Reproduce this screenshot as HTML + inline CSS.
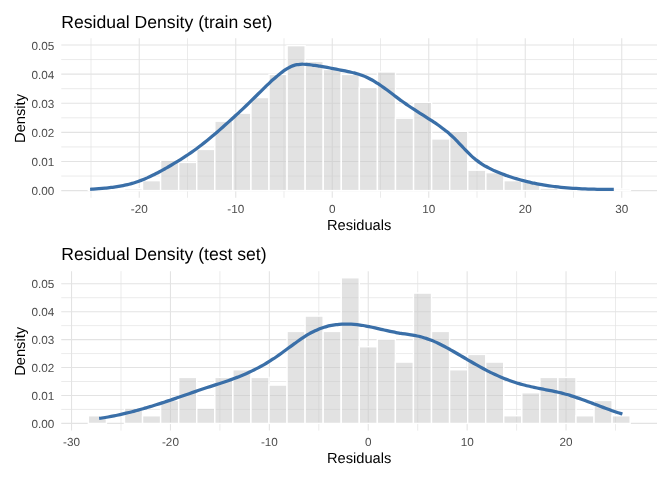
<!DOCTYPE html>
<html><head><meta charset="utf-8"><title>Residual Density</title>
<style>
html,body{margin:0;padding:0;background:#fff;}
body{width:672px;height:480px;overflow:hidden;}
svg{display:block;font-family:"Liberation Sans", sans-serif;}
text{text-rendering:geometricPrecision;}
text{filter:grayscale(1);}
</style></head><body>
<svg width="672" height="480" viewBox="0 0 672 480">
<rect width="672" height="480" fill="#FFFFFF"/>
<g id="train">
<g>
<line x1="61.25" x2="657.0" y1="176.04" y2="176.04" stroke="#E3E3E3" stroke-width="0.7"/>
<line x1="61.25" x2="657.0" y1="146.92" y2="146.92" stroke="#E3E3E3" stroke-width="0.7"/>
<line x1="61.25" x2="657.0" y1="117.80" y2="117.80" stroke="#E3E3E3" stroke-width="0.7"/>
<line x1="61.25" x2="657.0" y1="88.68" y2="88.68" stroke="#E3E3E3" stroke-width="0.7"/>
<line x1="61.25" x2="657.0" y1="59.56" y2="59.56" stroke="#E3E3E3" stroke-width="0.7"/>
<line y1="38.25" y2="197.75" x1="91.00" x2="91.00" stroke="#E3E3E3" stroke-width="0.7"/>
<line y1="38.25" y2="197.75" x1="187.50" x2="187.50" stroke="#E3E3E3" stroke-width="0.7"/>
<line y1="38.25" y2="197.75" x1="284.00" x2="284.00" stroke="#E3E3E3" stroke-width="0.7"/>
<line y1="38.25" y2="197.75" x1="380.50" x2="380.50" stroke="#E3E3E3" stroke-width="0.7"/>
<line y1="38.25" y2="197.75" x1="477.00" x2="477.00" stroke="#E3E3E3" stroke-width="0.7"/>
<line y1="38.25" y2="197.75" x1="573.50" x2="573.50" stroke="#E3E3E3" stroke-width="0.7"/>
<line x1="61.25" x2="657.0" y1="190.60" y2="190.60" stroke="#E3E3E3" stroke-width="1.07"/>
<line x1="61.25" x2="657.0" y1="161.48" y2="161.48" stroke="#E3E3E3" stroke-width="1.07"/>
<line x1="61.25" x2="657.0" y1="132.36" y2="132.36" stroke="#E3E3E3" stroke-width="1.07"/>
<line x1="61.25" x2="657.0" y1="103.24" y2="103.24" stroke="#E3E3E3" stroke-width="1.07"/>
<line x1="61.25" x2="657.0" y1="74.12" y2="74.12" stroke="#E3E3E3" stroke-width="1.07"/>
<line x1="61.25" x2="657.0" y1="45.00" y2="45.00" stroke="#E3E3E3" stroke-width="1.07"/>
<line y1="38.25" y2="197.75" x1="139.25" x2="139.25" stroke="#E3E3E3" stroke-width="1.07"/>
<line y1="38.25" y2="197.75" x1="235.75" x2="235.75" stroke="#E3E3E3" stroke-width="1.07"/>
<line y1="38.25" y2="197.75" x1="332.25" x2="332.25" stroke="#E3E3E3" stroke-width="1.07"/>
<line y1="38.25" y2="197.75" x1="428.75" x2="428.75" stroke="#E3E3E3" stroke-width="1.07"/>
<line y1="38.25" y2="197.75" x1="525.25" x2="525.25" stroke="#E3E3E3" stroke-width="1.07"/>
<line y1="38.25" y2="197.75" x1="621.75" x2="621.75" stroke="#E3E3E3" stroke-width="1.07"/>
</g>
<rect x="88.31" y="189.00" width="18.07" height="1.60" fill="rgb(197,197,197)" fill-opacity="0.5" stroke="#FFFFFF" stroke-width="1.42" stroke-linejoin="miter"/>
<rect x="106.38" y="190.50" width="18.07" height="0.10" fill="rgb(197,197,197)" fill-opacity="0.5" stroke="#FFFFFF" stroke-width="1.42" stroke-linejoin="miter"/>
<rect x="124.45" y="188.70" width="18.07" height="1.90" fill="rgb(197,197,197)" fill-opacity="0.5" stroke="#FFFFFF" stroke-width="1.42" stroke-linejoin="miter"/>
<rect x="142.52" y="180.65" width="18.07" height="9.95" fill="rgb(197,197,197)" fill-opacity="0.5" stroke="#FFFFFF" stroke-width="1.42" stroke-linejoin="miter"/>
<rect x="160.59" y="160.15" width="18.07" height="30.45" fill="rgb(197,197,197)" fill-opacity="0.5" stroke="#FFFFFF" stroke-width="1.42" stroke-linejoin="miter"/>
<rect x="178.66" y="162.40" width="18.07" height="28.20" fill="rgb(197,197,197)" fill-opacity="0.5" stroke="#FFFFFF" stroke-width="1.42" stroke-linejoin="miter"/>
<rect x="196.73" y="149.40" width="18.07" height="41.20" fill="rgb(197,197,197)" fill-opacity="0.5" stroke="#FFFFFF" stroke-width="1.42" stroke-linejoin="miter"/>
<rect x="214.80" y="121.15" width="18.07" height="69.45" fill="rgb(197,197,197)" fill-opacity="0.5" stroke="#FFFFFF" stroke-width="1.42" stroke-linejoin="miter"/>
<rect x="232.87" y="113.15" width="18.07" height="77.45" fill="rgb(197,197,197)" fill-opacity="0.5" stroke="#FFFFFF" stroke-width="1.42" stroke-linejoin="miter"/>
<rect x="250.94" y="97.50" width="18.07" height="93.10" fill="rgb(197,197,197)" fill-opacity="0.5" stroke="#FFFFFF" stroke-width="1.42" stroke-linejoin="miter"/>
<rect x="269.00" y="74.40" width="18.07" height="116.20" fill="rgb(197,197,197)" fill-opacity="0.5" stroke="#FFFFFF" stroke-width="1.42" stroke-linejoin="miter"/>
<rect x="287.08" y="45.65" width="18.07" height="144.95" fill="rgb(197,197,197)" fill-opacity="0.5" stroke="#FFFFFF" stroke-width="1.42" stroke-linejoin="miter"/>
<rect x="305.15" y="61.40" width="18.07" height="129.20" fill="rgb(197,197,197)" fill-opacity="0.5" stroke="#FFFFFF" stroke-width="1.42" stroke-linejoin="miter"/>
<rect x="323.22" y="69.40" width="18.07" height="121.20" fill="rgb(197,197,197)" fill-opacity="0.5" stroke="#FFFFFF" stroke-width="1.42" stroke-linejoin="miter"/>
<rect x="341.29" y="74.40" width="18.07" height="116.20" fill="rgb(197,197,197)" fill-opacity="0.5" stroke="#FFFFFF" stroke-width="1.42" stroke-linejoin="miter"/>
<rect x="359.36" y="87.40" width="18.07" height="103.20" fill="rgb(197,197,197)" fill-opacity="0.5" stroke="#FFFFFF" stroke-width="1.42" stroke-linejoin="miter"/>
<rect x="377.43" y="71.90" width="18.07" height="118.70" fill="rgb(197,197,197)" fill-opacity="0.5" stroke="#FFFFFF" stroke-width="1.42" stroke-linejoin="miter"/>
<rect x="395.50" y="118.15" width="18.07" height="72.45" fill="rgb(197,197,197)" fill-opacity="0.5" stroke="#FFFFFF" stroke-width="1.42" stroke-linejoin="miter"/>
<rect x="413.57" y="102.40" width="18.07" height="88.20" fill="rgb(197,197,197)" fill-opacity="0.5" stroke="#FFFFFF" stroke-width="1.42" stroke-linejoin="miter"/>
<rect x="431.63" y="138.90" width="18.07" height="51.70" fill="rgb(197,197,197)" fill-opacity="0.5" stroke="#FFFFFF" stroke-width="1.42" stroke-linejoin="miter"/>
<rect x="449.71" y="131.40" width="18.07" height="59.20" fill="rgb(197,197,197)" fill-opacity="0.5" stroke="#FFFFFF" stroke-width="1.42" stroke-linejoin="miter"/>
<rect x="467.78" y="170.15" width="18.07" height="20.45" fill="rgb(197,197,197)" fill-opacity="0.5" stroke="#FFFFFF" stroke-width="1.42" stroke-linejoin="miter"/>
<rect x="485.85" y="172.65" width="18.07" height="17.95" fill="rgb(197,197,197)" fill-opacity="0.5" stroke="#FFFFFF" stroke-width="1.42" stroke-linejoin="miter"/>
<rect x="503.92" y="180.65" width="18.07" height="9.95" fill="rgb(197,197,197)" fill-opacity="0.5" stroke="#FFFFFF" stroke-width="1.42" stroke-linejoin="miter"/>
<rect x="521.99" y="182.40" width="18.07" height="8.20" fill="rgb(197,197,197)" fill-opacity="0.5" stroke="#FFFFFF" stroke-width="1.42" stroke-linejoin="miter"/>
<rect x="540.06" y="188.15" width="18.07" height="2.45" fill="rgb(197,197,197)" fill-opacity="0.5" stroke="#FFFFFF" stroke-width="1.42" stroke-linejoin="miter"/>
<rect x="558.12" y="190.50" width="18.07" height="0.10" fill="rgb(197,197,197)" fill-opacity="0.5" stroke="#FFFFFF" stroke-width="1.42" stroke-linejoin="miter"/>
<rect x="576.20" y="190.50" width="18.07" height="0.10" fill="rgb(197,197,197)" fill-opacity="0.5" stroke="#FFFFFF" stroke-width="1.42" stroke-linejoin="miter"/>
<rect x="594.27" y="190.50" width="18.07" height="0.10" fill="rgb(197,197,197)" fill-opacity="0.5" stroke="#FFFFFF" stroke-width="1.42" stroke-linejoin="miter"/>
<rect x="612.34" y="189.00" width="18.07" height="1.60" fill="rgb(197,197,197)" fill-opacity="0.5" stroke="#FFFFFF" stroke-width="1.42" stroke-linejoin="miter"/>
<path d="M90.10,189.29C90.60,189.25 92.10,189.15 93.10,189.07C94.10,189.00 95.10,188.93 96.10,188.86C97.10,188.79 98.10,188.71 99.10,188.63C100.10,188.55 101.10,188.47 102.10,188.39C103.10,188.30 104.10,188.21 105.10,188.12C106.10,188.02 107.10,187.93 108.10,187.82C109.10,187.71 110.10,187.60 111.10,187.48C112.10,187.36 113.10,187.23 114.10,187.09C115.10,186.96 116.10,186.81 117.10,186.65C118.10,186.50 119.10,186.33 120.10,186.15C121.10,185.98 122.10,185.79 123.10,185.59C124.10,185.38 125.10,185.17 126.10,184.94C127.10,184.72 128.10,184.48 129.10,184.22C130.10,183.96 131.10,183.69 132.10,183.41C133.10,183.12 134.10,182.82 135.10,182.50C136.10,182.18 137.10,181.84 138.10,181.49C139.10,181.13 140.10,180.76 141.10,180.38C142.10,179.99 143.10,179.59 144.10,179.17C145.10,178.75 146.10,178.32 147.10,177.88C148.10,177.43 149.10,176.97 150.10,176.50C151.10,176.03 152.10,175.55 153.10,175.06C154.10,174.57 155.10,174.06 156.10,173.55C157.10,173.03 158.10,172.51 159.10,171.97C160.10,171.44 161.10,170.90 162.10,170.35C163.10,169.80 164.10,169.24 165.10,168.68C166.10,168.12 167.10,167.54 168.10,166.97C169.10,166.39 170.10,165.81 171.10,165.23C172.10,164.64 173.10,164.05 174.10,163.46C175.10,162.86 176.10,162.26 177.10,161.65C178.10,161.04 179.10,160.42 180.10,159.80C181.10,159.17 182.10,158.54 183.10,157.90C184.10,157.26 185.10,156.61 186.10,155.95C187.10,155.29 188.10,154.62 189.10,153.95C190.10,153.27 191.10,152.58 192.10,151.87C193.10,151.17 194.10,150.46 195.10,149.73C196.10,149.01 197.10,148.27 198.10,147.52C199.10,146.77 200.10,146.01 201.10,145.23C202.10,144.46 203.10,143.68 204.10,142.89C205.10,142.09 206.10,141.29 207.10,140.48C208.10,139.67 209.10,138.85 210.10,138.02C211.10,137.19 212.10,136.35 213.10,135.51C214.10,134.66 215.10,133.81 216.10,132.96C217.10,132.10 218.10,131.23 219.10,130.37C220.10,129.50 221.10,128.62 222.10,127.74C223.10,126.86 224.10,125.98 225.10,125.09C226.10,124.20 227.10,123.31 228.10,122.41C229.10,121.51 230.10,120.60 231.10,119.69C232.10,118.79 233.10,117.87 234.10,116.95C235.10,116.03 236.10,115.11 237.10,114.18C238.10,113.26 239.10,112.32 240.10,111.38C241.10,110.45 242.10,109.51 243.10,108.56C244.10,107.61 245.10,106.66 246.10,105.71C247.10,104.75 248.10,103.79 249.10,102.83C250.10,101.86 251.10,100.89 252.10,99.92C253.10,98.95 254.10,97.97 255.10,96.99C256.10,96.00 257.10,95.02 258.10,94.03C259.10,93.04 260.10,92.05 261.10,91.06C262.10,90.07 263.10,89.08 264.10,88.10C265.10,87.13 266.10,86.15 267.10,85.19C268.10,84.23 269.10,83.27 270.10,82.34C271.10,81.40 272.10,80.48 273.10,79.58C274.10,78.68 275.10,77.79 276.10,76.93C277.10,76.08 278.10,75.24 279.10,74.43C280.10,73.62 281.10,72.84 282.10,72.10C283.10,71.35 284.10,70.63 285.10,69.96C286.10,69.30 287.10,68.66 288.10,68.09C289.10,67.53 290.10,67.00 291.10,66.55C292.10,66.10 293.10,65.71 294.10,65.40C295.10,65.09 296.10,64.85 297.10,64.67C298.10,64.49 299.10,64.39 300.10,64.32C301.10,64.25 302.10,64.24 303.10,64.25C304.10,64.27 305.10,64.33 306.10,64.40C307.10,64.47 308.10,64.58 309.10,64.68C310.10,64.79 311.10,64.91 312.10,65.03C313.10,65.16 314.10,65.29 315.10,65.44C316.10,65.58 317.10,65.73 318.10,65.89C319.10,66.04 320.10,66.21 321.10,66.37C322.10,66.54 323.10,66.72 324.10,66.89C325.10,67.07 326.10,67.26 327.10,67.44C328.10,67.63 329.10,67.82 330.10,68.01C331.10,68.20 332.10,68.40 333.10,68.59C334.10,68.79 335.10,68.98 336.10,69.18C337.10,69.37 338.10,69.57 339.10,69.77C340.10,69.96 341.10,70.16 342.10,70.35C343.10,70.55 344.10,70.74 345.10,70.94C346.10,71.14 347.10,71.34 348.10,71.55C349.10,71.76 350.10,71.98 351.10,72.21C352.10,72.44 353.10,72.68 354.10,72.94C355.10,73.20 356.10,73.47 357.10,73.76C358.10,74.06 359.10,74.36 360.10,74.70C361.10,75.04 362.10,75.39 363.10,75.77C364.10,76.16 365.10,76.57 366.10,77.01C367.10,77.45 368.10,77.92 369.10,78.43C370.10,78.93 371.10,79.47 372.10,80.03C373.10,80.59 374.10,81.18 375.10,81.80C376.10,82.41 377.10,83.05 378.10,83.71C379.10,84.36 380.10,85.04 381.10,85.73C382.10,86.43 383.10,87.14 384.10,87.86C385.10,88.58 386.10,89.31 387.10,90.05C388.10,90.79 389.10,91.55 390.10,92.30C391.10,93.05 392.10,93.81 393.10,94.57C394.10,95.32 395.10,96.09 396.10,96.84C397.10,97.59 398.10,98.35 399.10,99.09C400.10,99.84 401.10,100.58 402.10,101.30C403.10,102.03 404.10,102.74 405.10,103.44C406.10,104.15 407.10,104.83 408.10,105.51C409.10,106.19 410.10,106.86 411.10,107.52C412.10,108.18 413.10,108.83 414.10,109.47C415.10,110.12 416.10,110.76 417.10,111.39C418.10,112.03 419.10,112.66 420.10,113.29C421.10,113.93 422.10,114.56 423.10,115.19C424.10,115.82 425.10,116.45 426.10,117.09C427.10,117.72 428.10,118.36 429.10,119.01C430.10,119.65 431.10,120.30 432.10,120.96C433.10,121.62 434.10,122.28 435.10,122.96C436.10,123.64 437.10,124.33 438.10,125.03C439.10,125.74 440.10,126.45 441.10,127.19C442.10,127.93 443.10,128.68 444.10,129.46C445.10,130.24 446.10,131.04 447.10,131.87C448.10,132.70 449.10,133.55 450.10,134.44C451.10,135.32 452.10,136.24 453.10,137.19C454.10,138.14 455.10,139.14 456.10,140.15C457.10,141.16 458.10,142.21 459.10,143.26C460.10,144.31 461.10,145.38 462.10,146.44C463.10,147.50 464.10,148.58 465.10,149.62C466.10,150.66 467.10,151.70 468.10,152.70C469.10,153.70 470.10,154.67 471.10,155.60C472.10,156.52 473.10,157.41 474.10,158.25C475.10,159.09 476.10,159.88 477.10,160.64C478.10,161.40 479.10,162.12 480.10,162.80C481.10,163.49 482.10,164.14 483.10,164.76C484.10,165.38 485.10,165.97 486.10,166.53C487.10,167.10 488.10,167.63 489.10,168.15C490.10,168.66 491.10,169.15 492.10,169.62C493.10,170.10 494.10,170.55 495.10,170.99C496.10,171.42 497.10,171.85 498.10,172.26C499.10,172.67 500.10,173.07 501.10,173.46C502.10,173.86 503.10,174.24 504.10,174.61C505.10,174.98 506.10,175.35 507.10,175.70C508.10,176.06 509.10,176.40 510.10,176.74C511.10,177.07 512.10,177.40 513.10,177.72C514.10,178.04 515.10,178.35 516.10,178.65C517.10,178.95 518.10,179.24 519.10,179.53C520.10,179.81 521.10,180.09 522.10,180.35C523.10,180.62 524.10,180.88 525.10,181.14C526.10,181.39 527.10,181.63 528.10,181.87C529.10,182.11 530.10,182.34 531.10,182.56C532.10,182.78 533.10,183.00 534.10,183.20C535.10,183.41 536.10,183.61 537.10,183.81C538.10,184.00 539.10,184.19 540.10,184.37C541.10,184.55 542.10,184.73 543.10,184.89C544.10,185.06 545.10,185.22 546.10,185.38C547.10,185.54 548.10,185.69 549.10,185.83C550.10,185.97 551.10,186.11 552.10,186.24C553.10,186.38 554.10,186.50 555.10,186.63C556.10,186.75 557.10,186.86 558.10,186.97C559.10,187.09 560.10,187.19 561.10,187.29C562.10,187.39 563.10,187.49 564.10,187.58C565.10,187.67 566.10,187.76 567.10,187.85C568.10,187.93 569.10,188.01 570.10,188.08C571.10,188.16 572.10,188.23 573.10,188.29C574.10,188.36 575.10,188.42 576.10,188.48C577.10,188.54 578.10,188.60 579.10,188.65C580.10,188.70 581.10,188.75 582.10,188.79C583.10,188.84 584.10,188.88 585.10,188.92C586.10,188.96 587.10,189.00 588.10,189.03C589.10,189.07 590.10,189.10 591.10,189.13C592.10,189.15 593.10,189.18 594.10,189.20C595.10,189.23 596.10,189.25 597.10,189.27C598.10,189.29 599.10,189.31 600.10,189.33C601.10,189.34 602.10,189.36 603.10,189.37C604.10,189.39 605.10,189.40 606.10,189.41C607.10,189.42 608.10,189.43 609.10,189.44C610.10,189.45 611.32,189.46 612.10,189.46C612.88,189.47 613.52,189.47 613.80,189.47" fill="none" stroke="#3A6FA8" stroke-width="3.25" stroke-linecap="butt" stroke-linejoin="round"/>
<text x="54.3" y="195.10" text-anchor="end" font-size="11.73" fill="#4D4D4D">0.00</text>
<text x="54.3" y="165.98" text-anchor="end" font-size="11.73" fill="#4D4D4D">0.01</text>
<text x="54.3" y="136.86" text-anchor="end" font-size="11.73" fill="#4D4D4D">0.02</text>
<text x="54.3" y="107.74" text-anchor="end" font-size="11.73" fill="#4D4D4D">0.03</text>
<text x="54.3" y="78.62" text-anchor="end" font-size="11.73" fill="#4D4D4D">0.04</text>
<text x="54.3" y="49.50" text-anchor="end" font-size="11.73" fill="#4D4D4D">0.05</text>
<text x="139.25" y="213.3" text-anchor="middle" font-size="11.73" fill="#4D4D4D">-20</text>
<text x="235.75" y="213.3" text-anchor="middle" font-size="11.73" fill="#4D4D4D">-10</text>
<text x="332.25" y="213.3" text-anchor="middle" font-size="11.73" fill="#4D4D4D">0</text>
<text x="428.75" y="213.3" text-anchor="middle" font-size="11.73" fill="#4D4D4D">10</text>
<text x="525.25" y="213.3" text-anchor="middle" font-size="11.73" fill="#4D4D4D">20</text>
<text x="621.75" y="213.3" text-anchor="middle" font-size="11.73" fill="#4D4D4D">30</text>
<text x="359.12" y="229.6" text-anchor="middle" font-size="14.67" fill="#000">Residuals</text>
<text transform="translate(24.5,118.45) rotate(-90)" text-anchor="middle" font-size="14.67" fill="#000">Density</text>
<text x="61.25" y="27.6" font-size="17.6" fill="#000">Residual Density (train set)</text>
</g>
<g id="test">
<g>
<line x1="61.25" x2="657.0" y1="409.44" y2="409.44" stroke="#E3E3E3" stroke-width="0.7"/>
<line x1="61.25" x2="657.0" y1="381.50" y2="381.50" stroke="#E3E3E3" stroke-width="0.7"/>
<line x1="61.25" x2="657.0" y1="353.57" y2="353.57" stroke="#E3E3E3" stroke-width="0.7"/>
<line x1="61.25" x2="657.0" y1="325.64" y2="325.64" stroke="#E3E3E3" stroke-width="0.7"/>
<line x1="61.25" x2="657.0" y1="297.71" y2="297.71" stroke="#E3E3E3" stroke-width="0.7"/>
<line y1="271.2" y2="430.6" x1="121.00" x2="121.00" stroke="#E3E3E3" stroke-width="0.7"/>
<line y1="271.2" y2="430.6" x1="219.90" x2="219.90" stroke="#E3E3E3" stroke-width="0.7"/>
<line y1="271.2" y2="430.6" x1="318.80" x2="318.80" stroke="#E3E3E3" stroke-width="0.7"/>
<line y1="271.2" y2="430.6" x1="417.70" x2="417.70" stroke="#E3E3E3" stroke-width="0.7"/>
<line y1="271.2" y2="430.6" x1="516.60" x2="516.60" stroke="#E3E3E3" stroke-width="0.7"/>
<line y1="271.2" y2="430.6" x1="615.50" x2="615.50" stroke="#E3E3E3" stroke-width="0.7"/>
<line x1="61.25" x2="657.0" y1="423.40" y2="423.40" stroke="#E3E3E3" stroke-width="1.07"/>
<line x1="61.25" x2="657.0" y1="395.47" y2="395.47" stroke="#E3E3E3" stroke-width="1.07"/>
<line x1="61.25" x2="657.0" y1="367.54" y2="367.54" stroke="#E3E3E3" stroke-width="1.07"/>
<line x1="61.25" x2="657.0" y1="339.61" y2="339.61" stroke="#E3E3E3" stroke-width="1.07"/>
<line x1="61.25" x2="657.0" y1="311.68" y2="311.68" stroke="#E3E3E3" stroke-width="1.07"/>
<line x1="61.25" x2="657.0" y1="283.75" y2="283.75" stroke="#E3E3E3" stroke-width="1.07"/>
<line y1="271.2" y2="430.6" x1="71.55" x2="71.55" stroke="#E3E3E3" stroke-width="1.07"/>
<line y1="271.2" y2="430.6" x1="170.45" x2="170.45" stroke="#E3E3E3" stroke-width="1.07"/>
<line y1="271.2" y2="430.6" x1="269.35" x2="269.35" stroke="#E3E3E3" stroke-width="1.07"/>
<line y1="271.2" y2="430.6" x1="368.25" x2="368.25" stroke="#E3E3E3" stroke-width="1.07"/>
<line y1="271.2" y2="430.6" x1="467.15" x2="467.15" stroke="#E3E3E3" stroke-width="1.07"/>
<line y1="271.2" y2="430.6" x1="566.05" x2="566.05" stroke="#E3E3E3" stroke-width="1.07"/>
</g>
<rect x="88.37" y="415.73" width="18.06" height="7.67" fill="rgb(197,197,197)" fill-opacity="0.5" stroke="#FFFFFF" stroke-width="1.42" stroke-linejoin="miter"/>
<rect x="106.43" y="423.40" width="18.06" height="0.00" fill="rgb(197,197,197)" fill-opacity="0.5" stroke="#FFFFFF" stroke-width="1.42" stroke-linejoin="miter"/>
<rect x="124.49" y="408.07" width="18.06" height="15.33" fill="rgb(197,197,197)" fill-opacity="0.5" stroke="#FFFFFF" stroke-width="1.42" stroke-linejoin="miter"/>
<rect x="142.55" y="415.73" width="18.06" height="7.67" fill="rgb(197,197,197)" fill-opacity="0.5" stroke="#FFFFFF" stroke-width="1.42" stroke-linejoin="miter"/>
<rect x="160.61" y="400.40" width="18.06" height="23.00" fill="rgb(197,197,197)" fill-opacity="0.5" stroke="#FFFFFF" stroke-width="1.42" stroke-linejoin="miter"/>
<rect x="178.67" y="377.40" width="18.06" height="46.00" fill="rgb(197,197,197)" fill-opacity="0.5" stroke="#FFFFFF" stroke-width="1.42" stroke-linejoin="miter"/>
<rect x="196.73" y="408.07" width="18.06" height="15.33" fill="rgb(197,197,197)" fill-opacity="0.5" stroke="#FFFFFF" stroke-width="1.42" stroke-linejoin="miter"/>
<rect x="214.79" y="377.40" width="18.06" height="46.00" fill="rgb(197,197,197)" fill-opacity="0.5" stroke="#FFFFFF" stroke-width="1.42" stroke-linejoin="miter"/>
<rect x="232.85" y="369.73" width="18.06" height="53.67" fill="rgb(197,197,197)" fill-opacity="0.5" stroke="#FFFFFF" stroke-width="1.42" stroke-linejoin="miter"/>
<rect x="250.91" y="377.40" width="18.06" height="46.00" fill="rgb(197,197,197)" fill-opacity="0.5" stroke="#FFFFFF" stroke-width="1.42" stroke-linejoin="miter"/>
<rect x="268.97" y="385.06" width="18.06" height="38.33" fill="rgb(197,197,197)" fill-opacity="0.5" stroke="#FFFFFF" stroke-width="1.42" stroke-linejoin="miter"/>
<rect x="287.03" y="331.40" width="18.06" height="92.00" fill="rgb(197,197,197)" fill-opacity="0.5" stroke="#FFFFFF" stroke-width="1.42" stroke-linejoin="miter"/>
<rect x="305.09" y="316.06" width="18.06" height="107.34" fill="rgb(197,197,197)" fill-opacity="0.5" stroke="#FFFFFF" stroke-width="1.42" stroke-linejoin="miter"/>
<rect x="323.15" y="331.40" width="18.06" height="92.00" fill="rgb(197,197,197)" fill-opacity="0.5" stroke="#FFFFFF" stroke-width="1.42" stroke-linejoin="miter"/>
<rect x="341.21" y="277.73" width="18.06" height="145.67" fill="rgb(197,197,197)" fill-opacity="0.5" stroke="#FFFFFF" stroke-width="1.42" stroke-linejoin="miter"/>
<rect x="359.27" y="346.73" width="18.06" height="76.67" fill="rgb(197,197,197)" fill-opacity="0.5" stroke="#FFFFFF" stroke-width="1.42" stroke-linejoin="miter"/>
<rect x="377.33" y="339.06" width="18.06" height="84.34" fill="rgb(197,197,197)" fill-opacity="0.5" stroke="#FFFFFF" stroke-width="1.42" stroke-linejoin="miter"/>
<rect x="395.39" y="362.06" width="18.06" height="61.34" fill="rgb(197,197,197)" fill-opacity="0.5" stroke="#FFFFFF" stroke-width="1.42" stroke-linejoin="miter"/>
<rect x="413.45" y="293.06" width="18.06" height="130.34" fill="rgb(197,197,197)" fill-opacity="0.5" stroke="#FFFFFF" stroke-width="1.42" stroke-linejoin="miter"/>
<rect x="431.51" y="331.40" width="18.06" height="92.00" fill="rgb(197,197,197)" fill-opacity="0.5" stroke="#FFFFFF" stroke-width="1.42" stroke-linejoin="miter"/>
<rect x="449.57" y="369.73" width="18.06" height="53.67" fill="rgb(197,197,197)" fill-opacity="0.5" stroke="#FFFFFF" stroke-width="1.42" stroke-linejoin="miter"/>
<rect x="467.63" y="354.40" width="18.06" height="69.00" fill="rgb(197,197,197)" fill-opacity="0.5" stroke="#FFFFFF" stroke-width="1.42" stroke-linejoin="miter"/>
<rect x="485.69" y="362.06" width="18.06" height="61.34" fill="rgb(197,197,197)" fill-opacity="0.5" stroke="#FFFFFF" stroke-width="1.42" stroke-linejoin="miter"/>
<rect x="503.75" y="415.73" width="18.06" height="7.67" fill="rgb(197,197,197)" fill-opacity="0.5" stroke="#FFFFFF" stroke-width="1.42" stroke-linejoin="miter"/>
<rect x="521.81" y="392.73" width="18.06" height="30.67" fill="rgb(197,197,197)" fill-opacity="0.5" stroke="#FFFFFF" stroke-width="1.42" stroke-linejoin="miter"/>
<rect x="539.87" y="377.40" width="18.06" height="46.00" fill="rgb(197,197,197)" fill-opacity="0.5" stroke="#FFFFFF" stroke-width="1.42" stroke-linejoin="miter"/>
<rect x="557.93" y="377.40" width="18.06" height="46.00" fill="rgb(197,197,197)" fill-opacity="0.5" stroke="#FFFFFF" stroke-width="1.42" stroke-linejoin="miter"/>
<rect x="575.99" y="415.73" width="18.06" height="7.67" fill="rgb(197,197,197)" fill-opacity="0.5" stroke="#FFFFFF" stroke-width="1.42" stroke-linejoin="miter"/>
<rect x="594.05" y="400.40" width="18.06" height="23.00" fill="rgb(197,197,197)" fill-opacity="0.5" stroke="#FFFFFF" stroke-width="1.42" stroke-linejoin="miter"/>
<rect x="612.11" y="415.73" width="18.06" height="7.67" fill="rgb(197,197,197)" fill-opacity="0.5" stroke="#FFFFFF" stroke-width="1.42" stroke-linejoin="miter"/>
<path d="M99.10,418.43C99.60,418.36 101.10,418.14 102.10,417.98C103.10,417.83 104.10,417.67 105.10,417.50C106.10,417.33 107.10,417.16 108.10,416.98C109.10,416.80 110.10,416.62 111.10,416.43C112.10,416.24 113.10,416.04 114.10,415.84C115.10,415.64 116.10,415.44 117.10,415.22C118.10,415.01 119.10,414.80 120.10,414.58C121.10,414.36 122.10,414.13 123.10,413.90C124.10,413.67 125.10,413.44 126.10,413.20C127.10,412.96 128.10,412.71 129.10,412.46C130.10,412.22 131.10,411.96 132.10,411.70C133.10,411.45 134.10,411.19 135.10,410.92C136.10,410.65 137.10,410.38 138.10,410.11C139.10,409.84 140.10,409.56 141.10,409.28C142.10,409.00 143.10,408.71 144.10,408.42C145.10,408.14 146.10,407.84 147.10,407.55C148.10,407.25 149.10,406.95 150.10,406.65C151.10,406.35 152.10,406.04 153.10,405.74C154.10,405.43 155.10,405.12 156.10,404.80C157.10,404.49 158.10,404.17 159.10,403.85C160.10,403.53 161.10,403.21 162.10,402.88C163.10,402.56 164.10,402.23 165.10,401.90C166.10,401.57 167.10,401.24 168.10,400.90C169.10,400.57 170.10,400.23 171.10,399.89C172.10,399.55 173.10,399.21 174.10,398.87C175.10,398.52 176.10,398.18 177.10,397.83C178.10,397.49 179.10,397.14 180.10,396.80C181.10,396.45 182.10,396.10 183.10,395.75C184.10,395.41 185.10,395.06 186.10,394.71C187.10,394.36 188.10,394.01 189.10,393.67C190.10,393.32 191.10,392.97 192.10,392.63C193.10,392.28 194.10,391.94 195.10,391.60C196.10,391.25 197.10,390.91 198.10,390.57C199.10,390.23 200.10,389.90 201.10,389.56C202.10,389.22 203.10,388.89 204.10,388.56C205.10,388.23 206.10,387.90 207.10,387.58C208.10,387.25 209.10,386.93 210.10,386.61C211.10,386.28 212.10,385.96 213.10,385.64C214.10,385.32 215.10,384.99 216.10,384.67C217.10,384.35 218.10,384.02 219.10,383.69C220.10,383.37 221.10,383.04 222.10,382.71C223.10,382.37 224.10,382.04 225.10,381.70C226.10,381.36 227.10,381.02 228.10,380.67C229.10,380.32 230.10,379.97 231.10,379.61C232.10,379.25 233.10,378.88 234.10,378.51C235.10,378.14 236.10,377.76 237.10,377.37C238.10,376.99 239.10,376.59 240.10,376.19C241.10,375.79 242.10,375.37 243.10,374.95C244.10,374.53 245.10,374.10 246.10,373.66C247.10,373.22 248.10,372.77 249.10,372.30C250.10,371.84 251.10,371.37 252.10,370.89C253.10,370.40 254.10,369.91 255.10,369.40C256.10,368.90 257.10,368.38 258.10,367.85C259.10,367.32 260.10,366.78 261.10,366.23C262.10,365.68 263.10,365.12 264.10,364.54C265.10,363.96 266.10,363.37 267.10,362.77C268.10,362.16 269.10,361.55 270.10,360.92C271.10,360.29 272.10,359.64 273.10,358.98C274.10,358.33 275.10,357.65 276.10,356.97C277.10,356.28 278.10,355.58 279.10,354.87C280.10,354.16 281.10,353.44 282.10,352.71C283.10,351.99 284.10,351.25 285.10,350.51C286.10,349.77 287.10,349.03 288.10,348.29C289.10,347.55 290.10,346.81 291.10,346.07C292.10,345.33 293.10,344.59 294.10,343.87C295.10,343.14 296.10,342.41 297.10,341.70C298.10,340.99 299.10,340.29 300.10,339.60C301.10,338.92 302.10,338.24 303.10,337.59C304.10,336.93 305.10,336.29 306.10,335.67C307.10,335.05 308.10,334.45 309.10,333.88C310.10,333.30 311.10,332.75 312.10,332.22C313.10,331.70 314.10,331.20 315.10,330.74C316.10,330.27 317.10,329.83 318.10,329.41C319.10,329.00 320.10,328.61 321.10,328.25C322.10,327.89 323.10,327.55 324.10,327.24C325.10,326.93 326.10,326.64 327.10,326.38C328.10,326.12 329.10,325.88 330.10,325.66C331.10,325.45 332.10,325.26 333.10,325.08C334.10,324.91 335.10,324.76 336.10,324.63C337.10,324.50 338.10,324.40 339.10,324.31C340.10,324.22 341.10,324.15 342.10,324.10C343.10,324.05 344.10,324.02 345.10,324.01C346.10,324.00 347.10,324.00 348.10,324.03C349.10,324.05 350.10,324.09 351.10,324.14C352.10,324.20 353.10,324.27 354.10,324.36C355.10,324.44 356.10,324.55 357.10,324.66C358.10,324.78 359.10,324.91 360.10,325.05C361.10,325.19 362.10,325.35 363.10,325.52C364.10,325.68 365.10,325.86 366.10,326.05C367.10,326.23 368.10,326.43 369.10,326.63C370.10,326.84 371.10,327.05 372.10,327.26C373.10,327.48 374.10,327.70 375.10,327.93C376.10,328.15 377.10,328.38 378.10,328.61C379.10,328.84 380.10,329.07 381.10,329.31C382.10,329.54 383.10,329.77 384.10,330.00C385.10,330.23 386.10,330.46 387.10,330.68C388.10,330.90 389.10,331.12 390.10,331.34C391.10,331.55 392.10,331.76 393.10,331.96C394.10,332.16 395.10,332.35 396.10,332.53C397.10,332.72 398.10,332.89 399.10,333.05C400.10,333.22 401.10,333.37 402.10,333.53C403.10,333.68 404.10,333.83 405.10,333.98C406.10,334.13 407.10,334.28 408.10,334.43C409.10,334.58 410.10,334.74 411.10,334.90C412.10,335.07 413.10,335.24 414.10,335.42C415.10,335.60 416.10,335.79 417.10,336.00C418.10,336.21 419.10,336.43 420.10,336.67C421.10,336.91 422.10,337.17 423.10,337.45C424.10,337.74 425.10,338.04 426.10,338.37C427.10,338.69 428.10,339.05 429.10,339.42C430.10,339.79 431.10,340.18 432.10,340.59C433.10,341.00 434.10,341.43 435.10,341.88C436.10,342.32 437.10,342.79 438.10,343.26C439.10,343.74 440.10,344.23 441.10,344.74C442.10,345.24 443.10,345.76 444.10,346.29C445.10,346.82 446.10,347.36 447.10,347.90C448.10,348.45 449.10,349.01 450.10,349.57C451.10,350.13 452.10,350.70 453.10,351.28C454.10,351.85 455.10,352.43 456.10,353.01C457.10,353.59 458.10,354.17 459.10,354.76C460.10,355.34 461.10,355.93 462.10,356.51C463.10,357.10 464.10,357.69 465.10,358.27C466.10,358.86 467.10,359.44 468.10,360.03C469.10,360.61 470.10,361.19 471.10,361.77C472.10,362.35 473.10,362.92 474.10,363.49C475.10,364.07 476.10,364.63 477.10,365.20C478.10,365.76 479.10,366.32 480.10,366.87C481.10,367.42 482.10,367.96 483.10,368.50C484.10,369.04 485.10,369.57 486.10,370.09C487.10,370.61 488.10,371.13 489.10,371.63C490.10,372.14 491.10,372.63 492.10,373.12C493.10,373.60 494.10,374.07 495.10,374.54C496.10,375.00 497.10,375.45 498.10,375.89C499.10,376.33 500.10,376.76 501.10,377.18C502.10,377.60 503.10,378.01 504.10,378.41C505.10,378.81 506.10,379.20 507.10,379.57C508.10,379.95 509.10,380.32 510.10,380.68C511.10,381.03 512.10,381.38 513.10,381.72C514.10,382.05 515.10,382.38 516.10,382.70C517.10,383.02 518.10,383.32 519.10,383.62C520.10,383.92 521.10,384.21 522.10,384.49C523.10,384.76 524.10,385.03 525.10,385.29C526.10,385.55 527.10,385.80 528.10,386.04C529.10,386.29 530.10,386.52 531.10,386.74C532.10,386.97 533.10,387.19 534.10,387.40C535.10,387.61 536.10,387.82 537.10,388.02C538.10,388.22 539.10,388.42 540.10,388.62C541.10,388.81 542.10,389.01 543.10,389.20C544.10,389.39 545.10,389.59 546.10,389.78C547.10,389.97 548.10,390.17 549.10,390.36C550.10,390.56 551.10,390.76 552.10,390.96C553.10,391.17 554.10,391.37 555.10,391.59C556.10,391.80 557.10,392.02 558.10,392.25C559.10,392.47 560.10,392.71 561.10,392.95C562.10,393.19 563.10,393.44 564.10,393.71C565.10,393.97 566.10,394.24 567.10,394.53C568.10,394.81 569.10,395.11 570.10,395.41C571.10,395.71 572.10,396.03 573.10,396.35C574.10,396.67 575.10,397.00 576.10,397.34C577.10,397.67 578.10,398.02 579.10,398.37C580.10,398.72 581.10,399.07 582.10,399.43C583.10,399.79 584.10,400.16 585.10,400.53C586.10,400.90 587.10,401.27 588.10,401.65C589.10,402.03 590.10,402.41 591.10,402.79C592.10,403.17 593.10,403.55 594.10,403.93C595.10,404.32 596.10,404.70 597.10,405.08C598.10,405.47 599.10,405.85 600.10,406.23C601.10,406.61 602.10,406.99 603.10,407.37C604.10,407.75 605.10,408.12 606.10,408.49C607.10,408.86 608.10,409.23 609.10,409.59C610.10,409.95 611.10,410.31 612.10,410.66C613.10,411.01 614.10,411.36 615.10,411.70C616.10,412.04 617.10,412.37 618.10,412.69C619.10,413.01 620.38,413.41 621.10,413.64C621.82,413.86 622.18,413.96 622.40,414.03" fill="none" stroke="#3A6FA8" stroke-width="3.25" stroke-linecap="butt" stroke-linejoin="round"/>
<text x="54.3" y="427.90" text-anchor="end" font-size="11.73" fill="#4D4D4D">0.00</text>
<text x="54.3" y="399.97" text-anchor="end" font-size="11.73" fill="#4D4D4D">0.01</text>
<text x="54.3" y="372.04" text-anchor="end" font-size="11.73" fill="#4D4D4D">0.02</text>
<text x="54.3" y="344.11" text-anchor="end" font-size="11.73" fill="#4D4D4D">0.03</text>
<text x="54.3" y="316.18" text-anchor="end" font-size="11.73" fill="#4D4D4D">0.04</text>
<text x="54.3" y="288.25" text-anchor="end" font-size="11.73" fill="#4D4D4D">0.05</text>
<text x="71.55" y="446.2" text-anchor="middle" font-size="11.73" fill="#4D4D4D">-30</text>
<text x="170.45" y="446.2" text-anchor="middle" font-size="11.73" fill="#4D4D4D">-20</text>
<text x="269.35" y="446.2" text-anchor="middle" font-size="11.73" fill="#4D4D4D">-10</text>
<text x="368.25" y="446.2" text-anchor="middle" font-size="11.73" fill="#4D4D4D">0</text>
<text x="467.15" y="446.2" text-anchor="middle" font-size="11.73" fill="#4D4D4D">10</text>
<text x="566.05" y="446.2" text-anchor="middle" font-size="11.73" fill="#4D4D4D">20</text>
<text x="359.12" y="462.6" text-anchor="middle" font-size="14.67" fill="#000">Residuals</text>
<text transform="translate(24.5,351.35) rotate(-90)" text-anchor="middle" font-size="14.67" fill="#000">Density</text>
<text x="61.25" y="260.2" font-size="17.6" fill="#000">Residual Density (test set)</text>
</g>
</svg>
</body></html>
